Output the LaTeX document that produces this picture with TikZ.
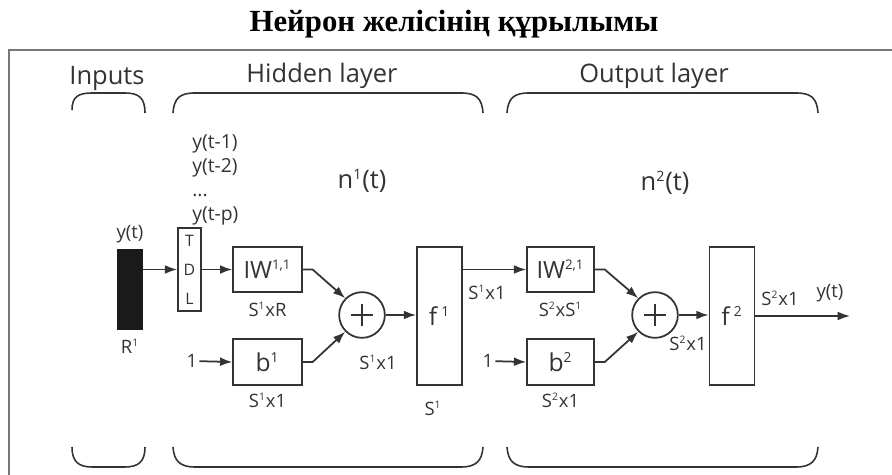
\documentclass[tikz,border=0pt]{standalone}
\usepackage{fontspec}
\setmainfont{Open Sans}
\newfontfamily\titlefont{Liberation Serif}
\usetikzlibrary{arrows.meta, positioning}
\definecolor{lineDark}{HTML}{333333}
\definecolor{barBlack}{HTML}{1A1A1A}
\definecolor{frameGray}{HTML}{777777}
\newcommand{\expo}[1]{\textsuperscript{\scalebox{0.8}{#1}}}
\tikzset{
  arrowK/.style={-{Latex[length=7pt, width=5pt]}, lineDark, line width=1pt},
  lineK/.style={lineDark, line width=1pt},
  frameK/.style={frameGray, line width=1.3pt},
  braceK/.style={lineDark, line width=0.9pt},
  boxW/.style={rectangle, draw=lineDark, line width=1pt, fill=white, inner sep=0pt,
               text=lineDark, font=\fontsize{13.5}{16}\selectfont},
  sumC/.style={circle, draw=lineDark, line width=1pt, minimum size=26pt, inner sep=0pt,
               path picture={\draw[lineDark, line width=0.6pt]
                 ([xshift=-6.5pt]path picture bounding box.center) -- ([xshift=6.5pt]path picture bounding box.center)
                 ([yshift=-6.5pt]path picture bounding box.center) -- ([yshift=6.5pt]path picture bounding box.center);}},
  dimL/.style={font=\fontsize{10.5}{12}\selectfont, text=lineDark, inner sep=1pt},
  layerL/.style={font=\fontsize{14.5}{17}\selectfont, text=lineDark, inner sep=0pt},
}

\begin{document}
\begin{tikzpicture}[x=0.02cm, y=-0.02cm]
    \useasboundingbox (0,0) rectangle (892,475);
    \node[font=\titlefont\bfseries\fontsize{17.5}{20}\selectfont] (title) at (454,24) {Нейрон желісінің құрылымы};
    \draw[frameK] (9,475) -- (9,50) -- (892,50);

    % layer headings and braces
    \node[layerL, anchor=base] (inL) at (107,85) {Inputs};
    \node[layerL, anchor=base] (hidL) at (322,83) {Hidden layer};
    \node[layerL, anchor=base] (outL) at (654,83) {Output layer};
    \draw[braceK] (72,110) .. controls (72,97) and (78,93) .. (92,93) -- (125,93) .. controls (139,93) and (145,98) .. (145,113);
    \draw[braceK] (173,113) .. controls (174,98) and (180,93) .. (195,93) -- (461,93) .. controls (476,93) and (482,98) .. (483,113);
    \draw[braceK] (507,113) .. controls (508,98) and (514,93) .. (529,93) -- (796,93) .. controls (811,93) and (817,98) .. (818,113);
    \draw[braceK] (72,447) .. controls (72,461) and (78,467) .. (92,467) -- (125,467) .. controls (139,467) and (145,461) .. (145,447);
    \draw[braceK] (173,447) .. controls (174,461) and (180,467) .. (195,467) -- (461,467) .. controls (476,467) and (482,461) .. (483,447);
    \draw[braceK] (507,447) .. controls (508,461) and (514,467) .. (529,467) -- (796,467) .. controls (811,467) and (817,461) .. (818,447);

    % input and delay line
    \node[rectangle, fill=barBlack, minimum width=14.8pt, minimum height=46pt, inner sep=0pt] (bar) at (130,289.5) {};
    \node[dimL, above=2pt of bar] (yin) {y(t)};
    \node[dimL, below=4pt of bar] (rin) {R\expo{1}};
    \node[boxW, minimum width=13pt, minimum height=47pt, align=center,
          font=\fontsize{9}{16.5}\selectfont] (tdl) at (189.5,269.5) {T\\D\\L};
    \node[anchor=west, align=left, text=lineDark, inner sep=0pt,
          font=\fontsize{11}{13.5}\selectfont] (lags) at (192,180) {y(t-1)\\y(t-2)\\...\\y(t-p)};

    % hidden layer
    \node[boxW, minimum width=39pt, minimum height=25.6pt] (iw1) at (267.5,269.5) {IW\expo{1,1}};
    \node[boxW, minimum width=39pt, minimum height=26pt, font=\fontsize{14}{16}\selectfont] (b1) at (267.5,362) {b\expo{1}};
    \node[dimL, below=4pt of iw1] (d1) {S\expo{1}xR};
    \node[dimL, below=3pt of b1] (d2) {S\expo{1}x1};
    \node[dimL] (one1) at (192,361) {1};
    \node[sumC] (sum1) at (362,315) {};
    \node[dimL] (d3) at (378,362) {S\expo{1}x1};
    \node[boxW, minimum width=25.6pt, minimum height=78.5pt, font=\fontsize{14}{16}\selectfont] (f1) at (439.5,316) {f\,\expo{1}};
    \node[dimL] (d4) at (433,408) {S\expo{1}};
    \node[layerL] (n1) at (362,181) {n\expo{1}(t)};

    % output layer
    \node[boxW, minimum width=38pt, minimum height=25.6pt] (iw2) at (560.5,269.5) {IW\expo{2,1}};
    \node[boxW, minimum width=38pt, minimum height=26pt, font=\fontsize{14}{16}\selectfont] (b2) at (560.5,362) {b\expo{2}};
    \node[dimL] (d5) at (487,292) {S\expo{1}x1};
    \node[dimL, below=4pt of iw2] (d6) {S\expo{2}xS\expo{1}};
    \node[dimL, below=3pt of b2] (d7) {S\expo{2}x1};
    \node[dimL] (one2) at (488,361) {1};
    \node[sumC] (sum2) at (655,315) {};
    \node[dimL] (d8) at (688,343) {S\expo{2}x1};
    \node[boxW, minimum width=25.6pt, minimum height=78.5pt, font=\fontsize{14}{16}\selectfont] (f2) at (732,316) {f\,\expo{2}};
    \node[dimL] (d9) at (780,298) {S\expo{2}x1};
    \node[dimL] (yout) at (830,293) {y(t)};
    \node[layerL] (n2) at (665,183) {n\expo{2}(t)};
    \coordinate (out) at (850,316);

    \draw[arrowK] (bar.east |- tdl.west) -- (tdl.west);
    \draw[arrowK] (tdl.east) -- (iw1.west);
    \draw[arrowK] (one1) -- (b1.west);
    \draw[arrowK] (iw1.east) -- ++(10,0) -- (sum1.135);
    \draw[arrowK] (b1.east) -- ++(10,0) -- (sum1.225);
    \draw[arrowK] (sum1.east) -- (sum1.east -| f1.west);
    \draw[arrowK] (f1.east |- iw2.west) -- (iw2.west);
    \draw[arrowK] (one2) -- (b2.west);
    \draw[arrowK] (iw2.east) -- ++(10,0) -- (sum2.135);
    \draw[arrowK] (b2.east) -- ++(10,0) -- (sum2.225);
    \draw[arrowK] (sum2.east) -- (sum2.east -| f2.west);
    \draw[arrowK] (f2.east) -- (out);
  \end{tikzpicture}
\end{document}
